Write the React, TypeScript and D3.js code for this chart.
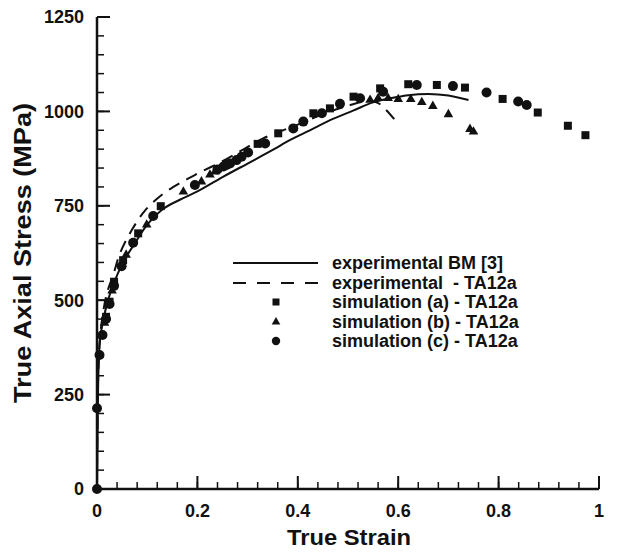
import React from "react";
import * as d3 from "d3";

const xTicks = [0, 0.2, 0.4, 0.6, 0.8, 1];
const xTickLabels = ["0", "0.2", "0.4", "0.6", "0.8", "1"];
const yTicks = [0, 250, 500, 750, 1000, 1250];
const yTickLabels = ["0", "250", "500", "750", "1000", "1250"];

const expBM: [number, number][] = [
  [0, 0], [0.002, 250], [0.005, 380], [0.01, 430], [0.02, 490], [0.035, 550],
  [0.05, 595], [0.075, 650], [0.1, 700], [0.13, 740], [0.165, 766], [0.2, 788],
  [0.25, 826], [0.3, 862], [0.35, 898], [0.384, 924], [0.424, 950], [0.47, 980],
  [0.51, 1002], [0.55, 1024], [0.59, 1036], [0.62, 1043], [0.66, 1046],
  [0.7, 1042], [0.74, 1030],
];

const expTA: [number, number][] = [
  [0, 0], [0.002, 280], [0.006, 400], [0.012, 466], [0.02, 520], [0.032, 565],
  [0.046, 625], [0.069, 685], [0.096, 738], [0.13, 780], [0.165, 810],
  [0.2, 835], [0.25, 868], [0.29, 898], [0.33, 928], [0.4, 965], [0.45, 993],
  [0.5, 1015], [0.54, 1028], [0.56, 1022], [0.575, 1005], [0.595, 975],
];

const simA: [number, number][] = [
  [0.018, 456], [0.025, 496], [0.034, 549], [0.052, 606], [0.082, 677],
  [0.127, 749], [0.32, 914], [0.361, 942], [0.431, 995], [0.464, 1008],
  [0.511, 1039], [0.564, 1061], [0.62, 1072], [0.677, 1070], [0.733, 1063],
  [0.808, 1033], [0.878, 997], [0.938, 962], [0.973, 937],
];

const simB: [number, number][] = [
  [0.015, 440], [0.03, 525], [0.058, 620], [0.099, 700], [0.172, 787],
  [0.208, 814], [0.225, 832], [0.235, 840], [0.544, 1030], [0.56, 1035],
  [0.58, 1035], [0.6, 1032], [0.625, 1032], [0.647, 1024], [0.669, 1014],
  [0.7, 992], [0.743, 953], [0.75, 946],
];

const simC: [number, number][] = [
  [0, 0], [0, 214], [0.005, 355], [0.011, 408], [0.018, 450], [0.025, 490],
  [0.034, 538], [0.049, 590], [0.072, 652], [0.112, 723], [0.195, 805],
  [0.24, 846], [0.252, 854], [0.258, 858], [0.265, 862], [0.278, 871],
  [0.288, 880], [0.301, 891], [0.335, 915], [0.391, 955], [0.411, 973],
  [0.448, 995], [0.484, 1020], [0.524, 1035], [0.57, 1052], [0.637, 1070],
  [0.709, 1067], [0.776, 1050], [0.839, 1026], [0.856, 1017],
];

const legendLabels = [
  "experimental BM [3]",
  "experimental  - TA12a",
  "simulation (a) - TA12a",
  "simulation (b) - TA12a",
  "simulation (c) - TA12a",
];

const INK = "#111";
const FONT = "'Liberation Sans', Arial, Helvetica, sans-serif";

export default function App() {
  const x = d3.scaleLinear().domain([0, 1]).range([97, 599]);
  const y = d3.scaleLinear().domain([0, 1250]).range([489, 17]);
  const line = d3
    .line<[number, number]>()
    .x((d) => x(d[0]))
    .y((d) => y(d[1]))
    .curve(d3.curveMonotoneX);
  const lineTA = d3
    .line<[number, number]>()
    .x((d) => x(d[0]))
    .y((d) => y(d[1]))
    .curve(d3.curveCatmullRom);

  const xMinor = d3.range(0, 1.0001, 0.04);
  const yMinor = d3.range(0, 1250.1, 50);
  const tri = d3.symbol(d3.symbolTriangle, 40)();
  const triLeg = d3.symbol(d3.symbolTriangle, 32)();

  const legX = 233;
  const legRows = [263, 283, 302, 322, 341];

  return (
    <svg width={619} height={552} style={{ display: "block", position: "absolute", left: 0, top: 0 }}>
      <rect width={619} height={552} fill="#fff" />
      <path d={line(expBM) || ""} fill="none" stroke={INK} strokeWidth={2} />
      <path d={lineTA(expTA) || ""} fill="none" stroke={INK} strokeWidth={2} strokeDasharray="12 8" />
      {simA.map((d, i) => (
        <rect key={"a" + i} x={x(d[0]) - 4} y={y(d[1]) - 4} width={8} height={8} fill={INK} />
      ))}
      {simB.map((d, i) => (
        <path key={"b" + i} d={tri || ""} transform={`translate(${x(d[0])},${y(d[1])})`} fill={INK} />
      ))}
      {simC.map((d, i) => (
        <circle key={"c" + i} cx={x(d[0])} cy={y(d[1])} r={5} fill={INK} />
      ))}
      <line x1={x(0)} x2={x(1)} y1={y(0)} y2={y(0)} stroke={INK} strokeWidth={2.5} />
      <line x1={x(0)} x2={x(0)} y1={y(0)} y2={y(1250)} stroke={INK} strokeWidth={2.5} />
      {xMinor.map((t, i) => (
        <line key={"xm" + i} x1={x(t)} x2={x(t)} y1={y(0)} y2={y(0) - 7} stroke={INK} strokeWidth={1.5} />
      ))}
      {xTicks.map((t, i) => (
        <line key={"xt" + i} x1={x(t)} x2={x(t)} y1={y(0)} y2={y(0) - 13} stroke={INK} strokeWidth={2} />
      ))}
      {yMinor.map((t, i) => (
        <line key={"ym" + i} x1={x(0)} x2={x(0) + 7} y1={y(t)} y2={y(t)} stroke={INK} strokeWidth={1.5} />
      ))}
      {yTicks.map((t, i) => (
        <line key={"yt" + i} x1={x(0)} x2={x(0) + 13} y1={y(t)} y2={y(t)} stroke={INK} strokeWidth={2} />
      ))}
      {xTicks.map((t, i) => (
        <text key={"xl" + i} x={x(t)} y={517} textAnchor="middle" fontFamily={FONT} fontWeight="bold" fontSize={18} fill={INK}>
          {xTickLabels[i]}
        </text>
      ))}
      {yTicks.map((t, i) => (
        <text key={"yl" + i} x={84} y={y(t)} dy="0.35em" textAnchor="end" fontFamily={FONT} fontWeight="bold" fontSize={18} fill={INK}>
          {yTickLabels[i]}
        </text>
      ))}
      <text x={349} y={545} textAnchor="middle" fontFamily={FONT} fontWeight="bold" fontSize={22} fill={INK} textLength={124} lengthAdjust="spacingAndGlyphs">
        True Strain
      </text>
      <text transform="translate(31,253) rotate(-90)" textAnchor="middle" fontFamily={FONT} fontWeight="bold" fontSize={23} fill={INK} textLength={300} lengthAdjust="spacingAndGlyphs">
        True Axial Stress (MPa)
      </text>
      <line x1={legX} x2={legX + 85} y1={legRows[0]} y2={legRows[0]} stroke={INK} strokeWidth={2} />
      <line x1={legX} x2={legX + 85} y1={legRows[1]} y2={legRows[1]} stroke={INK} strokeWidth={2} strokeDasharray="13 11" />
      <rect x={276 - 3.5} y={legRows[2] - 3.5} width={7} height={7} fill={INK} />
      <path d={triLeg || ""} transform={`translate(276,${legRows[3]})`} fill={INK} />
      <circle cx={276} cy={legRows[4]} r={4.2} fill={INK} />
      {legendLabels.map((l, i) => (
        <text key={"lg" + i} x={332} y={legRows[i]} dy="0.35em" fontFamily={FONT} fontWeight="bold" fontSize={18} fill={INK} style={{ whiteSpace: "pre" }}>
          {l}
        </text>
      ))}
    </svg>
  );
}
